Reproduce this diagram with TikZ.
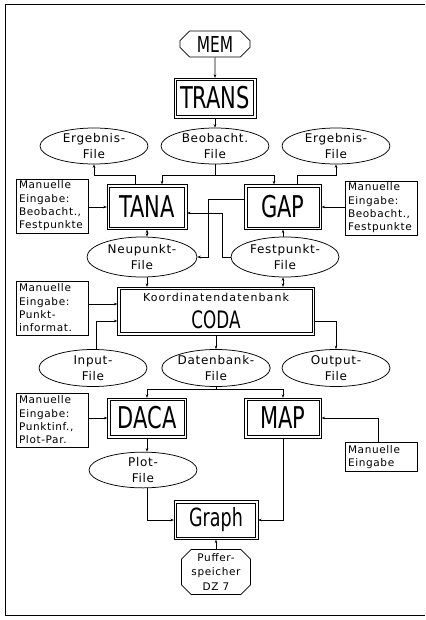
\documentclass[tikz,border=0pt]{standalone}
\usepackage{fontspec}
\setmainfont{DejaVu Sans}
\newfontfamily\smallfont[LetterSpace=6]{DejaVu Sans}
\newfontfamily\widefont[LetterSpace=10]{DejaVu Sans}
\newfontfamily\namefont[FakeStretch=0.7]{DejaVu Sans}
\usetikzlibrary{shapes.geometric,shapes.misc,arrows.meta}

\begin{document}
\begin{tikzpicture}[x=1pt, y=-1pt, line width=0.75pt,
  every node/.style={font=\smallfont\fontsize{12}{16}\selectfont},
  prog/.style={draw, inner sep=0pt, outer sep=2.6pt,
    font=\namefont\fontsize{30}{30}\selectfont},
  file/.style={draw, ellipse, inner sep=0pt, minimum width=108pt, minimum height=36pt, align=center},
  manual/.style={draw, inner xsep=3pt, inner ysep=2pt, text width=66pt, align=left,
    minimum height=54pt, font=\smallfont\fontsize{10.5}{13.3}\selectfont},
  store/.style={draw, chamfered rectangle, chamfered rectangle xsep=6pt, inner sep=0pt},
  >={Stealth[length=3.5pt,width=2.6pt]}]
  \useasboundingbox (0,0) rectangle (425,620);
  \draw[line width=1pt] (425,5) -- (5,5) -- (5,615) -- (425,615);

  % programs and files
  \node[store, minimum width=70pt, minimum height=26pt, font=\namefont\fontsize{22}{22}\selectfont] (MEM) at (215,44) {MEM};
  \node[prog, minimum width=77pt, minimum height=35pt] (TRANS) at (215,98) {TRANS};
  \node[file] (erg1) at (94,146) {Ergebnis-\\File};
  \node[file] (beob) at (215,146) {Beobacht.\\File};
  \node[file] (erg2) at (336,146) {Ergebnis-\\File};
  \node[prog, minimum width=75pt, minimum height=40pt] (TANA) at (147,207) {TANA};
  \node[prog, minimum width=72pt, minimum height=40pt] (GAP) at (283,207) {GAP};
  \node[manual] (man1) at (52,206) {Manuelle\\Eingabe:\\Beobacht.,\\Festpunkte};
  \node[manual] (man2) at (381,208) {Manuelle\\Eingabe:\\Beobacht.,\\Festpunkte};
  \node[file, minimum width=110pt, minimum height=40pt] (neu) at (142,257) {Neupunkt-\\File};
  \node[file, minimum height=40pt] (fest) at (285,257) {Festpunkt-\\File};
  \node[prog, minimum width=192pt, minimum height=43pt, align=center,
    font=\namefont\fontsize{24}{27}\selectfont] (CODA) at (216,311)
    {{\widefont\fontsize{11}{16}\selectfont Koordinatendatenbank}\\CODA};
  \node[manual] (man3) at (52,308) {Manuelle\\Eingabe:\\Punkt-\\informat.};
  \node[file, minimum height=37pt] (inp) at (93,368) {Input-\\File};
  \node[file, minimum height=37pt] (dat) at (216,368) {Datenbank-\\File};
  \node[file, minimum height=37pt] (out) at (336,368) {Output-\\File};
  \node[prog, minimum width=74pt, minimum height=35pt] (DACA) at (147,418) {DACA};
  \node[prog, minimum width=72pt, minimum height=35pt] (MAP) at (283,418) {MAP};
  \node[manual] (man4) at (52,420) {Manuelle\\Eingabe:\\Punktinf.,\\Plot-Par.};
  \node[manual, minimum height=29pt] (man5) at (381,457) {Manuelle\\Eingabe};
  \node[file, minimum height=33pt] (plot) at (143,470) {Plot-\\File};
  \node[prog, minimum width=79pt, minimum height=34pt, font=\namefont\fontsize{25}{25}\selectfont] (Graph) at (216,520) {Graph};
  \node[store, minimum width=69pt, minimum height=45pt, align=center,
    font=\smallfont\fontsize{10.5}{14.5}\selectfont] (puf) at (216,572) {Puffer-\\speicher\\DZ 7};

  % second frame round each program
  \foreach \n in {TRANS,TANA,GAP,CODA,DACA,MAP,Graph}
    \draw (\n.south west) rectangle (\n.north east);

  % connectors
  \coordinate (bus1) at (0,175);
  \coordinate (bus2) at (0,389);
  \coordinate (jA) at (208,0);
  \coordinate (jB) at (222,0);
  \draw[->] (MEM) -- (TRANS);
  \draw[->] (TRANS.south -| beob.north) -- (beob.north);
  \draw[->] ([xshift=-12pt]TANA.north) |- (erg1.south |- bus1) -- (erg1.south);
  \draw[->] (beob.south) |- ([xshift=15pt]TANA.north |- bus1) -- ([xshift=15pt]TANA.north);
  \draw[->] (beob.south) |- ([xshift=-9pt]GAP.north |- bus1) -- ([xshift=-9pt]GAP.north);
  \draw[->] ([xshift=14pt]GAP.north) |- (erg2.south |- bus1) -- (erg2.south);
  \draw[->] (man1.east |- TANA.west) -- (TANA.west);
  \draw[->] (man2.west |- GAP.east) -- (GAP.east);
  \draw[->] ([yshift=8pt]GAP.west) -| (jA |- neu.east) -- (neu.east);
  \draw[->] (fest.west) -| ([yshift=-6pt]jB |- TANA.east) -- ([yshift=-6pt]TANA.east);
  \draw[<->] (TANA.south) -- (TANA.south |- neu.north);
  \draw[->] (neu.south -| TANA.south) -- (TANA.south |- CODA.north);
  \draw[->] (fest.north -| GAP.south) -- (GAP.south);
  \draw[<->] (fest.south -| GAP.south) -- (GAP.south |- CODA.north);
  \draw[->] ([yshift=4pt]man3.east) -- ([yshift=4pt]man3.east -| CODA.west);
  \draw[->] ([xshift=3pt]inp.north) |- ([yshift=-10pt]CODA.west);
  \draw[->] ([yshift=-10pt]CODA.east) -| (out.north);
  \draw[->] (CODA.south -| dat.north) -- (dat.north);
  \draw[->] (dat.south) |- (DACA.north |- bus2) -- (DACA.north);
  \draw[->] (dat.south) |- (MAP.north |- bus2) -- (MAP.north);
  \draw[->] (man4.east |- DACA.west) -- (DACA.west);
  \draw[->] ([xshift=-3pt]man5.north) |- (MAP.east);
  \draw[->] (DACA.south) -- (DACA.south |- plot.north);
  \draw[->] (plot.south -| DACA.south) |- (Graph.west);
  \draw[->] (MAP.south) |- (Graph.east);
  \draw[->] (puf.north) -- (Graph.south);
\end{tikzpicture}
\end{document}
